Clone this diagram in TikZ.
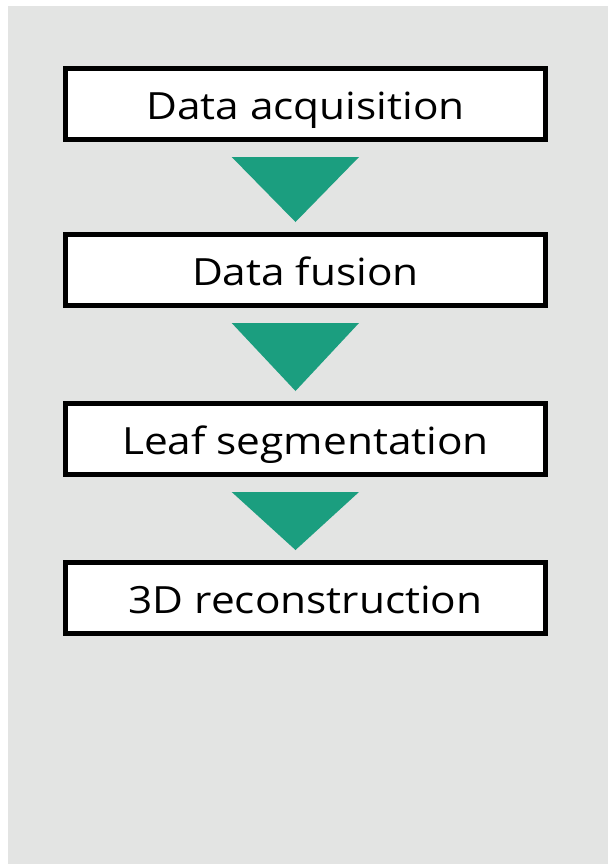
\documentclass[tikz,border=0pt]{standalone}
\usepackage{fontspec}
\setmainfont[FakeStretch=1.13]{Open Sans}
\usepackage{tikz}
\usetikzlibrary{positioning, calc}
\definecolor{panelGray}{HTML}{E3E4E3}
\definecolor{flowTeal}{HTML}{1B9E7F}

\begin{document}
\begin{tikzpicture}[
    x=1pt, y=1pt,
    stage/.style={draw=black, line width=5pt, fill=white,
                  minimum width=480pt, minimum height=71pt,
                  inner sep=0pt, text height=30pt, text depth=0pt,
                  font=\fontsize{37.5}{42}\selectfont},
    flowtri/.style={fill=flowTeal},
]
% Frame
\useasboundingbox (0,0) rectangle (608,-865);
\fill[panelGray] (8,-6) rectangle (608,-864);

% Stages
\node[stage] (acq) at (305.5,-104) {Data acquisition};
\node[stage, below=90pt of acq] (fus) {Data fusion};
\node[stage, below=93pt of fus] (seg) {Leaf segmentation};
\node[stage, below=83pt of seg] (rec) {3D reconstruction};

% Triangles between stages
\foreach \a/\b in {acq/fus, fus/seg, seg/rec}
  \fill[flowtri] ($(\a.south)+(-73.8,-15)$) -- ($(\a.south)+(53.5,-15)$)
      -- ($(\b.north)+(-10,10)$) -- cycle;
\end{tikzpicture}
\end{document}
